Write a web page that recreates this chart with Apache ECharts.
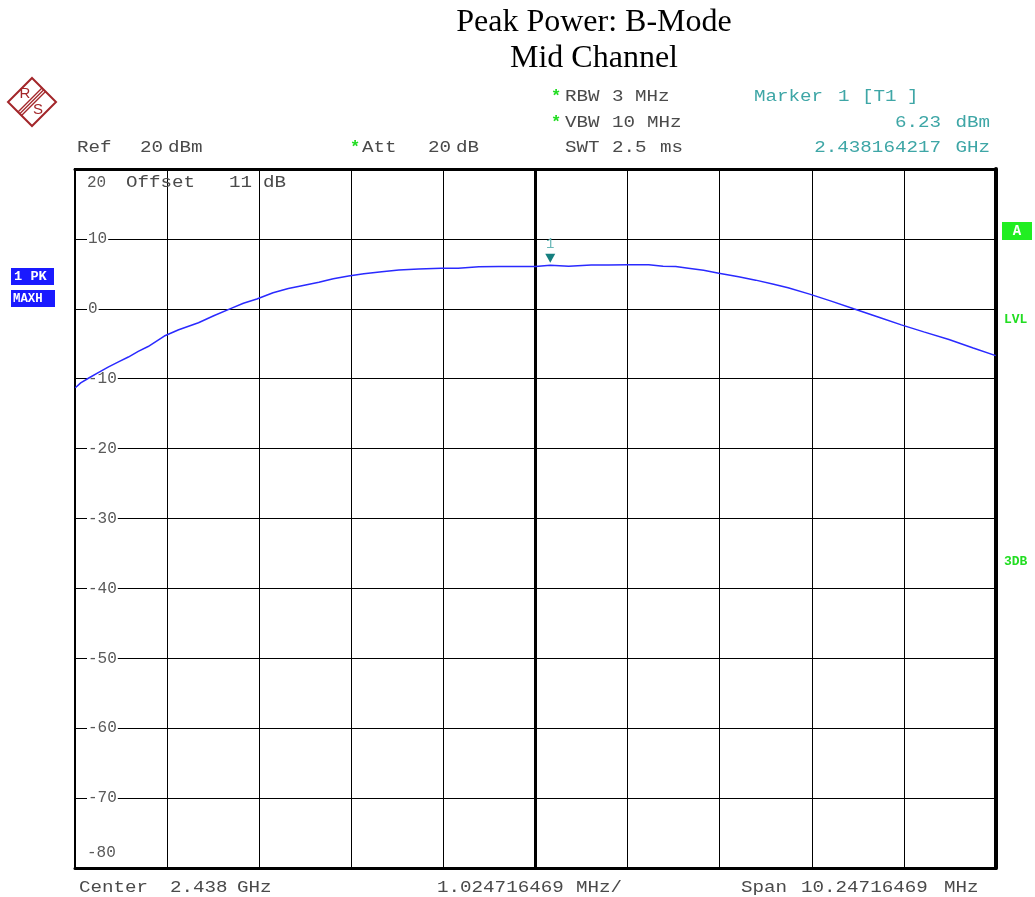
<!DOCTYPE html>
<html>
<head>
<meta charset="utf-8">
<title>Peak Power: B-Mode — Mid Channel</title>
<script src="https://cdn.jsdelivr.net/npm/echarts@6/dist/echarts.min.js"></script>
<style>
  html, body { margin: 0; padding: 0; background: #fff; }
  #chart { width: 1035px; height: 897px; }
</style>
</head>
<body>
<div id="chart"></div>
<script>
// Sweep trace: frequency offset from center (MHz) and max-hold peak level (dBm)
const freqOffsetMHz = [
  -5.12, -5.06, -4.97, -4.86, -4.75, -4.64, -4.53, -4.42, -4.31, -4.13,
  -3.97, -3.75, -3.58, -3.38, -3.25, -3.10, -2.92, -2.75, -2.64, -2.41,
  -2.25, -2.08, -1.91, -1.71, -1.52, -1.30, -1.05, -0.86, -0.63, -0.41,
  -0.19, 0.00, 0.164217, 0.37, 0.62, 0.81, 1.03, 1.26, 1.42, 1.56,
  1.70, 1.87, 2.04, 2.26, 2.45, 2.65, 2.81, 3.05, 3.29, 3.54,
  3.82, 4.07, 4.32, 4.60, 4.87, 5.12
];
const levelDbm = [
  -11.3, -10.6, -9.9, -9.1, -8.3, -7.6, -6.9, -6.1, -5.4, -3.9,
  -3.0, -2.0, -1.0, 0.1, 0.8, 1.4, 2.3, 2.9, 3.2, 3.8,
  4.3, 4.7, 5.0, 5.3, 5.55, 5.7, 5.8, 5.8, 6.0, 6.05,
  6.05, 6.05, 6.23, 6.1, 6.28, 6.25, 6.3, 6.3, 6.1, 6.05,
  5.8, 5.5, 5.1, 4.6, 4.1, 3.5, 3.0, 2.1, 1.1, 0.0,
  -1.2, -2.3, -3.3, -4.4, -5.6, -6.7
];

// Marker 1
const markerFreqMHz = 0.164217;
const markerLevelDbm = 6.23;

// Axis settings (center 2.438 GHz, span 10.24716469 MHz, 10 dB/div)
const divMHz = 1.024716469;
const xMinMHz = -5 * divMHz;
const xMaxMHz = 5 * divMHz;
const yMin = -80, yMax = 20, yStep = 10;

const MONO = "'Liberation Mono', 'DejaVu Sans Mono', monospace";
const GRAY = '#4a4a4a';
const TEAL = '#3ea6a6';
const GREEN = '#22dd22';
const LOGO = '#a3262a';

function txt(s, x, y, fill, extra) {
  const e = Object.assign({ size: 16, weight: 'normal', align: 'left', sx: 1.2 }, extra || {});
  return {
    type: 'text', x: x, y: y, scaleX: e.sx, z: 20,
    style: {
      text: s, fill: fill, align: e.align, verticalAlign: 'middle',
      font: e.weight + ' ' + e.size + 'px ' + MONO
    }
  };
}

const graphics = [
  // title
  { type: 'text', x: 594, y: 23, z: 20, style: { text: 'Peak Power: B-Mode', fill: '#000', align: 'center', verticalAlign: 'middle', font: "32px 'Liberation Serif', 'DejaVu Serif', serif" } },
  { type: 'text', x: 594, y: 59, z: 20, style: { text: 'Mid Channel', fill: '#000', align: 'center', verticalAlign: 'middle', font: "32px 'Liberation Serif', 'DejaVu Serif', serif" } },

  // logo
  { type: 'polygon', z: 20, shape: { points: [[32, 78], [56, 102], [32, 126], [8, 102]] }, style: { fill: 'none', stroke: LOGO, lineWidth: 2 } },
  { type: 'line', z: 20, shape: { x1: 42.2, y1: 87.7, x2: 17.7, y2: 112.2 }, style: { stroke: LOGO, lineWidth: 1.3 } },
  { type: 'line', z: 20, shape: { x1: 44, y1: 89.5, x2: 19.5, y2: 114 }, style: { stroke: LOGO, lineWidth: 1.3 } },
  { type: 'line', z: 20, shape: { x1: 45.8, y1: 91.3, x2: 21.3, y2: 115.8 }, style: { stroke: LOGO, lineWidth: 1.3 } },
  { type: 'text', x: 25, y: 94, z: 20, style: { text: 'R', fill: LOGO, align: 'center', verticalAlign: 'middle', font: "15px 'Liberation Sans', sans-serif" } },
  { type: 'text', x: 38, y: 110, z: 20, style: { text: 'S', fill: LOGO, align: 'center', verticalAlign: 'middle', font: "15px 'Liberation Sans', sans-serif" } },

  // settings header
  txt('Ref', 77, 148, GRAY), txt('20', 140, 148, GRAY), txt('dBm', 168, 148, GRAY),
  txt('*', 350, 148, GREEN, { size: 17, weight: 'bold', sx: 1 }), txt('Att', 362, 148, GRAY), txt('20', 428, 148, GRAY), txt('dB', 456, 148, GRAY),
  txt('*', 551, 97, GREEN, { size: 17, weight: 'bold', sx: 1 }), txt('RBW', 565, 97, GRAY), txt('3', 612, 97, GRAY), txt('MHz', 635, 97, GRAY),
  txt('*', 551, 123, GREEN, { size: 17, weight: 'bold', sx: 1 }), txt('VBW', 565, 123, GRAY), txt('10', 612, 123, GRAY), txt('MHz', 647, 123, GRAY),
  txt('SWT', 565, 148, GRAY), txt('2.5', 612, 148, GRAY), txt('ms', 660, 148, GRAY),

  // marker readout
  txt('Marker', 754, 97, TEAL), txt('1', 838, 97, TEAL), txt('[T1', 862, 97, TEAL), txt(']', 907, 97, TEAL),
  txt('6.23', 941, 123, TEAL, { align: 'right' }), txt('dBm', 990, 123, TEAL, { align: 'right' }),
  txt('2.438164217', 941, 148, TEAL, { align: 'right' }), txt('GHz', 990, 148, TEAL, { align: 'right' }),

  // offset note inside the graticule
  txt('Offset', 126, 183, GRAY), txt('11', 229, 183, GRAY), txt('dB', 263, 183, GRAY),

  // trace badges
  { type: 'rect', z: 20, shape: { x: 11, y: 268, width: 43, height: 17 }, style: { fill: '#1a1aff' } },
  txt('1 PK', 14, 277, '#fff', { size: 13, weight: 'bold', sx: 1.05 }),
  { type: 'rect', z: 20, shape: { x: 11, y: 290, width: 44, height: 17 }, style: { fill: '#1a1aff' } },
  txt('MAXH', 13, 299, '#fff', { size: 13, weight: 'bold', sx: 0.95 }),

  // right side indicators
  { type: 'rect', z: 20, shape: { x: 1002, y: 222, width: 30, height: 18 }, style: { fill: '#22ee22' } },
  txt('A', 1017, 231, '#fff', { size: 14, weight: 'bold', align: 'center', sx: 1 }),
  txt('LVL', 1004, 320, GREEN, { size: 13, weight: 'bold', sx: 1 }),
  txt('3DB', 1004, 562, GREEN, { size: 13, weight: 'bold', sx: 1 }),

  // frequency footer
  txt('Center', 79, 888, GRAY), txt('2.438', 170, 888, GRAY), txt('GHz', 237, 888, GRAY),
  txt('1.024716469', 437, 888, GRAY), txt('MHz/', 576, 888, GRAY),
  txt('Span', 741, 888, GRAY), txt('10.24716469', 801, 888, GRAY), txt('MHz', 944, 888, GRAY)
];

const chart = echarts.init(document.getElementById('chart'), null, { renderer: 'canvas' });

chart.setOption({
  animation: false,
  backgroundColor: '#fff',
  grid: {
    left: 75, right: 39, top: 169, bottom: 29,
    show: true, borderColor: '#000', borderWidth: 2,
    containLabel: false, outerBoundsMode: 'none'
  },
  xAxis: [
    {
      type: 'value', min: xMinMHz, max: xMaxMHz, interval: divMHz,
      axisLine: { show: true, onZero: false, lineStyle: { color: '#000', width: 3 } },
      axisTick: { show: false },
      axisLabel: { show: false },
      splitLine: { show: true, lineStyle: { color: '#000', width: 1 } }
    },
    {
      type: 'value', position: 'top', min: xMinMHz, max: xMaxMHz, interval: divMHz,
      axisLine: { show: true, onZero: false, lineStyle: { color: '#000', width: 3 } },
      axisTick: { show: false }, axisLabel: { show: false }, splitLine: { show: false }
    }
  ],
  yAxis: [
    {
      type: 'value', min: yMin, max: yMax, interval: yStep,
      axisLine: { show: false, onZero: false },
      axisTick: { show: false },
      splitLine: { show: true, lineStyle: { color: '#000', width: 1 } },
      axisLabel: {
        inside: true, margin: 12, color: '#5a5a5a',
        fontFamily: MONO, fontSize: 16,
        formatter: function (v) {
          if (v === yMax) return '{t|' + v + '}';
          if (v === yMin) return '{b|' + v + '}';
          return '{n|' + v + '}';
        },
        rich: {
          n: { backgroundColor: '#fff', padding: [0, 1, 0, 1], color: '#5a5a5a', fontFamily: MONO, fontSize: 16 },
          t: { padding: [28, 0, 0, 0], color: '#5a5a5a', fontFamily: MONO, fontSize: 16 },
          b: { padding: [0, 0, 30, 0], color: '#5a5a5a', fontFamily: MONO, fontSize: 16 }
        }
      }
    },
    {
      type: 'value', position: 'right', min: yMin, max: yMax, interval: yStep,
      axisLine: { show: true, onZero: false, lineStyle: { color: '#000', width: 4 } },
      axisTick: { show: false }, axisLabel: { show: false }, splitLine: { show: false }
    }
  ],
  series: [
    {
      // heavy center-frequency graticule line
      type: 'line', data: [], z: 1, silent: true,
      markLine: {
        silent: true, symbol: 'none', label: { show: false },
        lineStyle: { color: '#000', width: 3, type: 'solid' },
        data: [{ xAxis: 0 }]
      }
    },
    {
      name: '1 PK MAXH',
      type: 'line', z: 5,
      data: freqOffsetMHz.map(function (f, i) { return [f, levelDbm[i]]; }),
      showSymbol: false,
      lineStyle: { color: '#2a2aff', width: 1.5 },
      markPoint: {
        symbol: 'triangle', symbolRotate: 180, symbolSize: [10, 9], symbolOffset: [0, -7],
        itemStyle: { color: '#157f7f' },
        label: { show: true, position: 'top', distance: 2, formatter: '1', color: '#6ab8b8', fontFamily: MONO, fontSize: 14 },
        data: [{ coord: [markerFreqMHz, markerLevelDbm] }]
      }
    }
  ],
  graphic: graphics
});
</script>
</body>
</html>
